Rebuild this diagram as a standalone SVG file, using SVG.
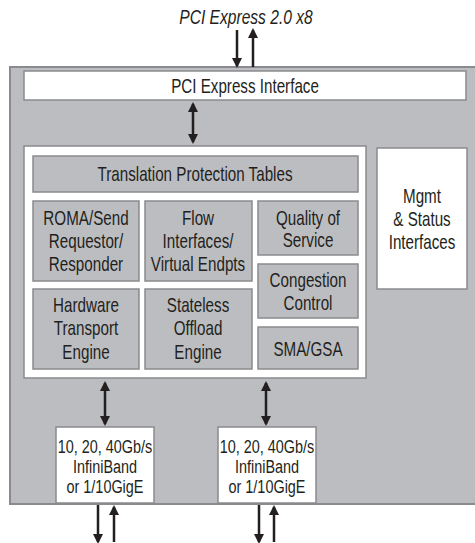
<svg xmlns="http://www.w3.org/2000/svg" width="475" height="543" viewBox="0 0 475 543">
<style>
text{font-family:"Liberation Sans",Arial,sans-serif;fill:#231f20;text-anchor:middle;font-size:20px;transform-box:fill-box;transform-origin:center;transform:scaleX(0.76)}
.it{font-style:italic;font-size:19.5px;transform:scaleX(0.8)}
.pt{font-size:19px}
.gray{fill:#bcbdc0;stroke:#8a8b8e;stroke-width:1.5}
.white{fill:#fff;stroke:#8a8b8e;stroke-width:1.5}
.ln{stroke:#231f20;stroke-width:2.5;fill:none}
</style>
<defs>
<marker id="ah" viewBox="0 0 10 10" refX="8" refY="5" markerWidth="4" markerHeight="4" orient="auto-start-reverse" markerUnits="strokeWidth">
<path d="M0,0 L10,5 L0,10 z" fill="#231f20"/>
</marker>
</defs>
<rect width="475" height="543" fill="#fff"/>
<g id="chip"><rect class="gray" x="10" y="67" width="470" height="437" style="stroke-width:2"/></g>
<text class="it" x="246" y="24">PCI Express 2.0 x8</text>
<g id="pcie"><rect class="white" x="24" y="71" width="442" height="29"/><text x="245" y="93">PCI Express Interface</text></g>
<g id="core"><rect class="white" x="24" y="146" width="342" height="232"/></g>
<g id="tpt"><rect class="gray" x="33" y="156" width="325" height="36"/><text x="195" y="181">Translation Protection Tables</text></g>
<g id="roma"><rect class="gray" x="33" y="201" width="106" height="80"/><text x="86" y="225">ROMA/Send</text><text x="86" y="248">Requestor/</text><text x="86" y="271">Responder</text></g>
<g id="flow"><rect class="gray" x="145" y="201" width="107" height="80"/><text x="198" y="225">Flow</text><text x="198" y="248">Interfaces/</text><text x="198" y="271">Virtual Endpts</text></g>
<g id="hte"><rect class="gray" x="33" y="289" width="106" height="80"/><text x="86" y="312">Hardware</text><text x="86" y="335">Transport</text><text x="86" y="359">Engine</text></g>
<g id="soe"><rect class="gray" x="145" y="289" width="107" height="80"/><text x="198" y="312">Stateless</text><text x="198" y="335">Offload</text><text x="198" y="359">Engine</text></g>
<g id="qos"><rect class="gray" x="258" y="201" width="100" height="54"/><text x="308" y="225">Quality of</text><text x="308" y="247">Service</text></g>
<g id="cc"><rect class="gray" x="258" y="264" width="100" height="54"/><text x="308" y="287">Congestion</text><text x="308" y="310">Control</text></g>
<g id="sma"><rect class="gray" x="258" y="327" width="100" height="42"/><text x="308" y="356">SMA/GSA</text></g>
<g id="mgmt"><rect class="white" x="377" y="148" width="90" height="141"/><text x="422" y="203">Mgmt</text><text x="422" y="226">&amp; Status</text><text x="422" y="249">Interfaces</text></g>
<g id="port1"><rect class="white" x="56" y="427" width="98" height="76"/><text class="pt" x="105" y="453">10, 20, 40Gb/s</text><text class="pt" x="105" y="473">InfiniBand</text><text class="pt" x="105" y="493">or 1/10GigE</text></g>
<g id="port2"><rect class="white" x="218" y="427" width="98" height="76"/><text class="pt" x="267" y="453">10, 20, 40Gb/s</text><text class="pt" x="267" y="473">InfiniBand</text><text class="pt" x="267" y="493">or 1/10GigE</text></g>
<g id="connectors">
<line class="ln" x1="237" y1="30" x2="237" y2="66" marker-end="url(#ah)"/>
<line class="ln" x1="253" y1="67" x2="253" y2="30" marker-end="url(#ah)"/>
<line class="ln" x1="193" y1="104" x2="193" y2="142" marker-start="url(#ah)" marker-end="url(#ah)"/>
<line class="ln" x1="105" y1="383" x2="105" y2="424" marker-start="url(#ah)" marker-end="url(#ah)"/>
<line class="ln" x1="266" y1="383" x2="266" y2="424" marker-start="url(#ah)" marker-end="url(#ah)"/>
<line class="ln" x1="98" y1="505" x2="98" y2="542" marker-end="url(#ah)"/>
<line class="ln" x1="114" y1="542" x2="114" y2="507" marker-end="url(#ah)"/>
<line class="ln" x1="259" y1="505" x2="259" y2="542" marker-end="url(#ah)"/>
<line class="ln" x1="274" y1="542" x2="274" y2="507" marker-end="url(#ah)"/>
</g>
</svg>
